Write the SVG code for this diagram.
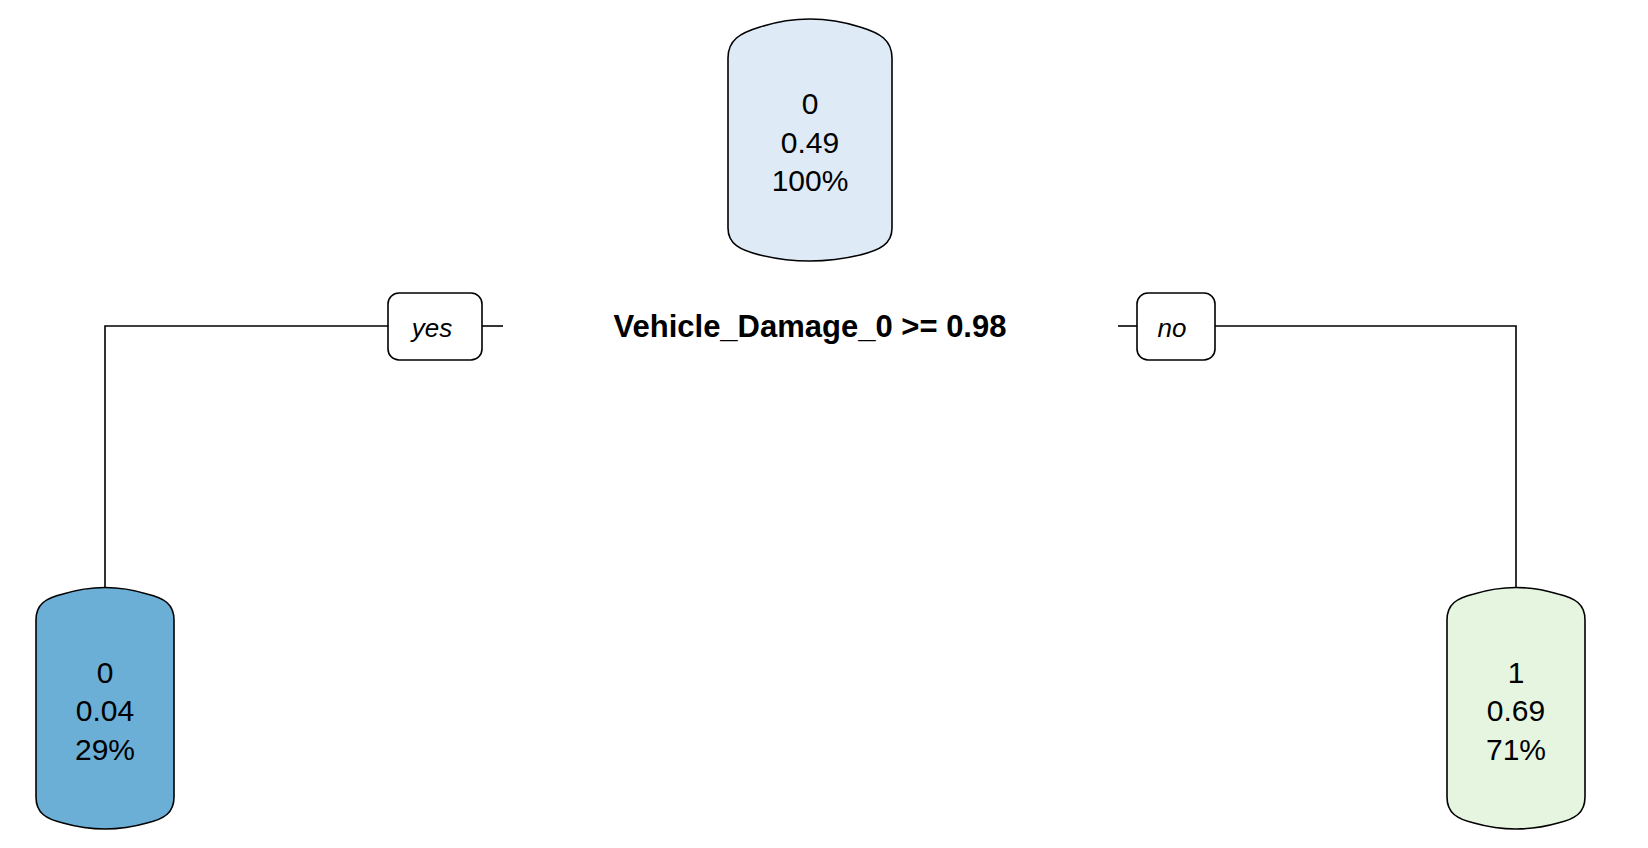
<svg xmlns="http://www.w3.org/2000/svg" width="1648" height="848" viewBox="0 0 1648 848">
<style>
.node{stroke:#000;stroke-width:1.6}
.t{font-family:"Liberation Sans",Arial,sans-serif;font-size:30px;text-anchor:middle;fill:#000}
.lbl{font-family:"Liberation Sans",Arial,sans-serif;font-size:26px;font-style:italic;text-anchor:middle;fill:#000}
.split{font-family:"Liberation Sans",Arial,sans-serif;font-size:31px;font-weight:bold;text-anchor:middle;fill:#000}
.c{fill:none;stroke:#000;stroke-width:1.6}
.box{fill:#fff;stroke:#000;stroke-width:1.6}
</style>
<rect width="1648" height="848" fill="#fff"/>
<g id="connectors">
<path class="c" d="M105,588 L105,326 L388,326"/>
<path class="c" d="M482,326 L503,326"/>
<path class="c" d="M1118,326 L1137,326"/>
<path class="c" d="M1215,326 L1516,326 L1516,588"/>
</g>
<g id="node-root">
<path class="node" fill="#DEEBF7" d="M728,228 L728,58 C728,40 740,33 760,27 Q810,11 860,27 C880,33 892,40 892,58 L892,228 C892,244 880,250 860,255 Q810,267 760,255 C740,250 728,244 728,228 Z"/>
<text class="t" x="810" y="114">0</text>
<text class="t" x="810" y="153">0.49</text>
<text class="t" x="810" y="191">100%</text>
</g>
<g id="split-label">
<text class="split" x="810" y="337">Vehicle_Damage_0 &gt;= 0.98</text>
</g>
<g id="label-yes">
<rect class="box" x="388" y="293" width="94" height="67" rx="11"/>
<text class="lbl" x="432" y="337">yes</text>
</g>
<g id="label-no">
<rect class="box" x="1137" y="293" width="78" height="67" rx="11"/>
<text class="lbl" x="1172" y="337">no</text>
</g>
<g id="node-left">
<path class="node" fill="#6BAED6" d="M36,797 L36,620 C36,604 46,598 63,594 Q105,581 147,594 C164,598 174,604 174,620 L174,797 C174,813 164,819 147,823 Q105,835 63,823 C46,819 36,813 36,797 Z"/>
<text class="t" x="105" y="683">0</text>
<text class="t" x="105" y="721">0.04</text>
<text class="t" x="105" y="760">29%</text>
</g>
<g id="node-right">
<path class="node" fill="#E5F5E0" d="M1447,797 L1447,620 C1447,604 1457,598 1474,594 Q1516,581 1558,594 C1575,598 1585,604 1585,620 L1585,797 C1585,813 1575,819 1558,823 Q1516,835 1474,823 C1457,819 1447,813 1447,797 Z"/>
<text class="t" x="1516" y="683">1</text>
<text class="t" x="1516" y="721">0.69</text>
<text class="t" x="1516" y="760">71%</text>
</g>
</svg>
